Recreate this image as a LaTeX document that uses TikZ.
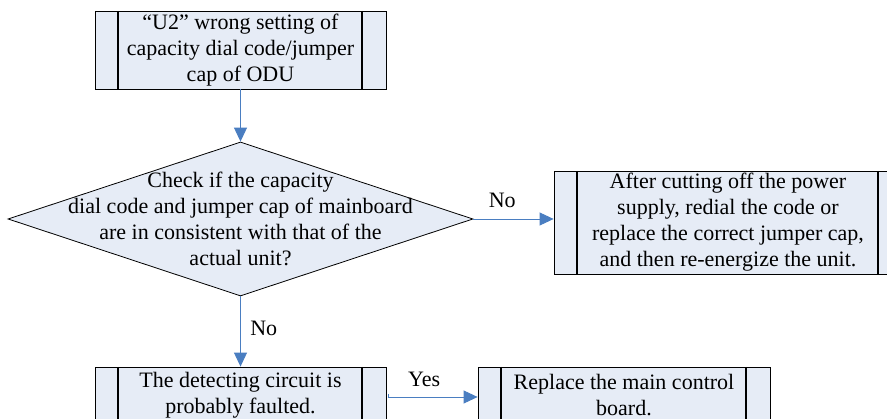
\documentclass[tikz,border=0pt]{standalone}
\usepackage{fontspec}
\setmainfont{Liberation Serif}
\usepackage{xcolor}
\usepackage{tikz}
\usetikzlibrary{positioning,arrows.meta,shapes.geometric}

\definecolor{boxfill}{RGB}{230,236,246}
\definecolor{flowblue}{RGB}{74,126,193}

\begin{document}
\begin{tikzpicture}[x=1pt,y=1pt,
  font=\fontsize{22}{26}\selectfont,
  procbox/.style={draw, fill=boxfill, line width=0.8pt, align=center, inner sep=0pt,
    path picture={
      \draw[line width=1.2pt] ([xshift=23pt]path picture bounding box.north west)
        -- ([xshift=23pt]path picture bounding box.south west);
      \draw[line width=1.2pt] ([xshift=-24pt]path picture bounding box.north east)
        -- ([xshift=-24pt]path picture bounding box.south east);
    }},
  decision/.style={diamond, draw, fill=boxfill, line width=0.8pt, inner sep=0pt},
  flow/.style={draw=flowblue, line width=0.9pt, -{Triangle[length=14pt,width=13pt]}}]

  \useasboundingbox (0,0) rectangle (887,-419);
  \clip (0,0) rectangle (887,-419);

  % process boxes
  \node[procbox, minimum width=291, minimum height=78] (err) at (240.5,-50)
    {``U2'' wrong setting of\\capacity dial code/jumper\\cap of ODU};
  \node[procbox, minimum width=348, minimum height=103] (fix) at (728,-222.5)
    {After cutting off the power\\supply, redial the code or\\replace the correct jumper cap,\\and then re-energize the unit.};
  \node[procbox, minimum width=291, minimum height=56] (det) at (240.5,-395)
    {The detecting circuit is\\probably faulted.};
  \node[procbox, minimum width=292, minimum height=56] (repl) at (624,-395)
    {Replace the main control\\board.};

  % the check
  \node[decision, minimum width=465, minimum height=154] (chk) at (240.5,-219) {};
  \node[align=center] (chktxt) at (chk)
    {Check if the capacity\\dial code and jumper cap of mainboard\\are in consistent with that of the\\actual unit?};

  % connectors
  \draw[flow] (err.south) -- (chk.north);
  \draw[flow] (chk.east) -- node[above=7pt, pos=0.36] {No} (chk.east -| fix.west);
  \draw[flow] (chk.south) -- node[right=6pt, pos=0.45] {No} (det.north);
  \draw[flow] ([xshift=2pt,yshift=1pt]det.east) -- ++(0,-3)
    -- node[above=7pt, pos=0.4] {Yes} ([yshift=-2pt]repl.west);
\end{tikzpicture}
\end{document}
